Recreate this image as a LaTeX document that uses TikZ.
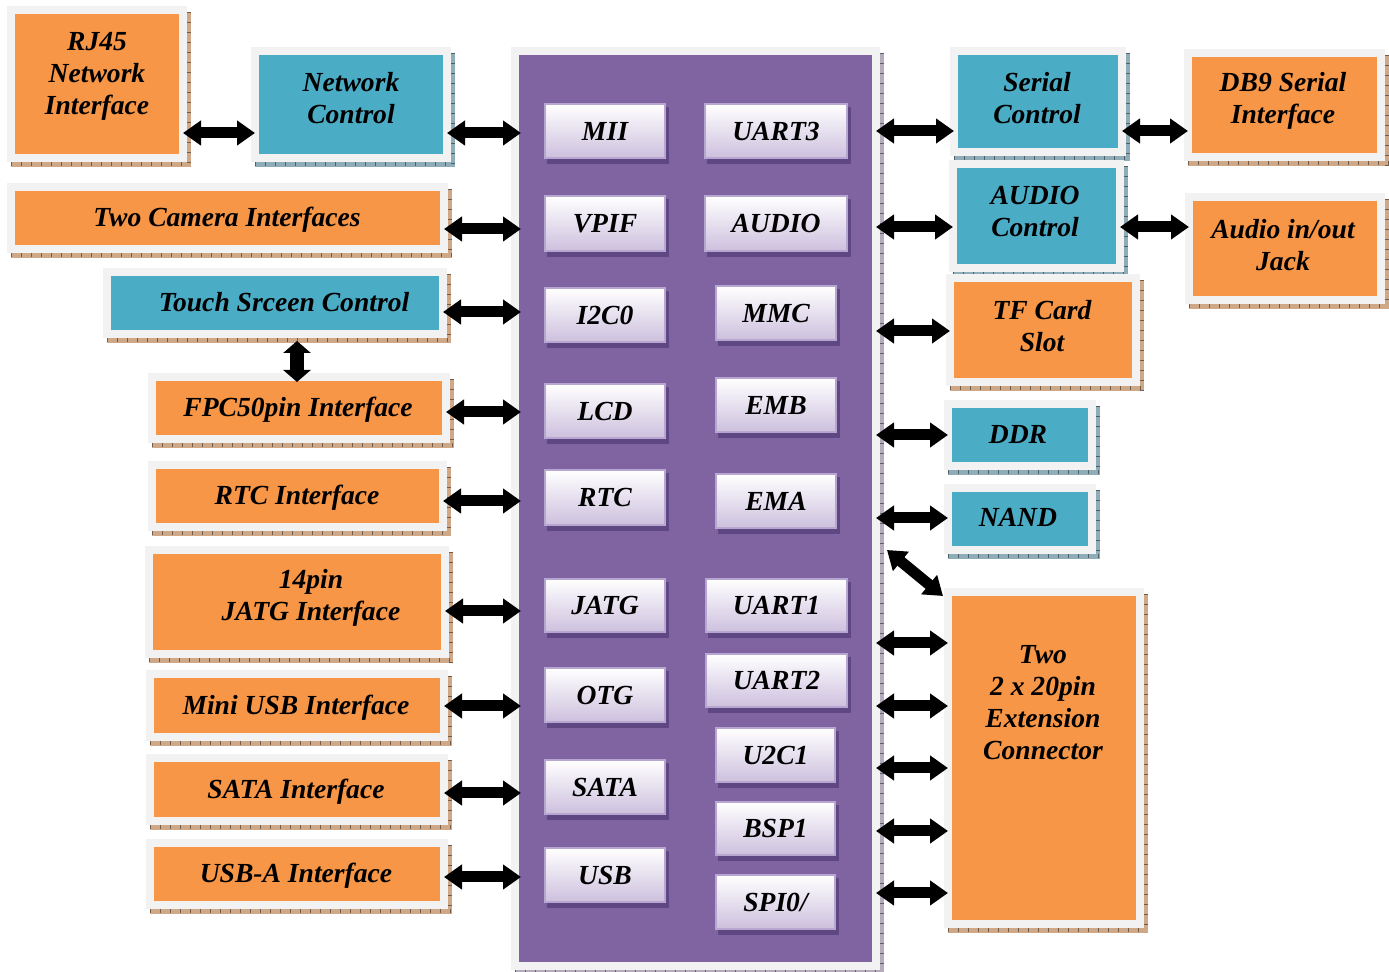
\documentclass[tikz,border=0pt]{standalone}
\usepackage{fontspec}
\setmainfont{Liberation Serif}
\usetikzlibrary{arrows.meta}
\definecolor{orng}{HTML}{F79646}
\definecolor{aqua}{HTML}{4BACC6}
\definecolor{purp}{HTML}{8064A2}
\definecolor{frm}{HTML}{F2F2F2}
\definecolor{oshad}{HTML}{CFA888}
\definecolor{bshad}{HTML}{8EADB8}
\definecolor{pshad}{HTML}{B4ACBC}
\definecolor{cshad}{HTML}{5E4782}
\definecolor{cbot}{HTML}{CDC0DE}
\definecolor{cbrd}{HTML}{B7A6CF}
\tikzset{
  frame/.style={draw=frm, line width=4pt, inner sep=0pt, outer sep=0pt},
  chip/.style={draw=cbrd, line width=1.2pt, top color=white, bottom color=cbot, inner sep=0pt, outer sep=0pt},
  txt/.style={font=\bfseries\itshape\fontsize{13.8}{16}\selectfont, align=center, inner sep=0pt},
  one/.style={text height=9.2pt, text depth=0pt},
  ticks/.style={line width=2pt, dash pattern=on 0.5pt off 4.5pt},
  arr/.style={draw=black, line width=5.5pt, {Triangle[width=12pt,length=9pt]}-{Triangle[width=12pt,length=9pt]}},
  varr/.style={draw=black, line width=7pt, {Triangle[width=13.5pt,length=6pt]}-{Triangle[width=13.5pt,length=6pt]}},
}
% #1 name, #2 x1, #3 y1, #4 x2, #5 y2 (inner coloured area), #6 fill, #7 shadow
\newcommand\mybox[7]{%
  \fill[#7] ({#2-4},{#3-2}) rectangle ({#4+12},{#5+13});
  \draw[ticks, #7!55!black] ({#2-4},{#5+10.5}) -- ({#4+12},{#5+10.5});
  \draw[ticks, #7!55!black] ({#4+10},{#3-2}) -- ({#4+10},{#5+13});
  \node[frame, fill=#6, minimum width={(#4-#2+8)*0.5pt}, minimum height={(#5-#3+8)*0.5pt}] (#1) at ({(#2+#4)/2},{(#3+#5)/2}) {};
}
% #1 name, #2 x1, #3 y1, #4 x2, #5 y2 (outer), #6 text
\newcommand\mychip[6]{%
  \fill[cshad] ({#2+3},{#3+4}) rectangle ({#4+3},{#5+5});
  \node[chip, txt, one, minimum width={(#4-#2-2.4)*0.5pt}, minimum height={(#5-#3-2.4)*0.5pt}] (#1) at ({(#2+#4)/2},{(#3+#5)/2}) {#6};
}
\begin{document}
\begin{tikzpicture}[x=0.5pt, y=-0.5pt]
\useasboundingbox (0,0) rectangle (1389,972);
\fill[white] (0,0) rectangle (1389,972);

% CPU block
\mybox{cpu}{519}{55}{872}{962}{purp}{pshad}
\coordinate (cpuL) at ([xshift=3pt]cpu.west);
\coordinate (cpuR) at (cpu.east);

% left boxes
\mybox{rj}{15}{14}{179}{154}{orng}{oshad}
\mybox{nc}{259}{55}{443}{154}{aqua}{bshad}
\mybox{cam}{15}{191}{440}{245}{orng}{oshad}
\mybox{touch}{111}{276}{439}{330}{aqua}{oshad}
\mybox{fpc}{156}{381}{442}{435}{orng}{oshad}
\mybox{rtci}{156}{469}{439}{523}{orng}{oshad}
\mybox{jtagi}{153}{554}{441}{650}{orng}{oshad}
\mybox{musb}{154}{678}{440}{733}{orng}{oshad}
\mybox{satai}{154}{762}{440}{817}{orng}{oshad}
\mybox{usba}{154}{847}{440}{901}{orng}{oshad}

% right boxes
\mybox{serial}{958}{55}{1118}{148}{aqua}{bshad}
\mybox{db9}{1192}{57}{1377}{153}{orng}{oshad}
\mybox{audc}{957}{168}{1116}{264}{aqua}{bshad}
\mybox{jack}{1193}{201}{1377}{296}{orng}{oshad}
\mybox{tf}{954}{282}{1132}{378}{orng}{oshad}
\mybox{ddr}{952}{408}{1088}{462}{aqua}{bshad}
\mybox{nand}{952}{492}{1088}{546}{aqua}{bshad}
\mybox{ext}{952}{596}{1136}{920}{orng}{oshad}

% box texts
\node[txt] (rjT) at (97,76) {RJ45\\Network\\Interface};
\node[txt] (ncT) at (351,98) {Network\\Control};
\node[txt, one] (camT) at (227,217) {Two Camera Interfaces};
\node[txt, one] (touchT) at (284,302) {Touch Srceen Control};
\node[txt, one] (fpcT) at (298,407) {FPC50pin Interface};
\node[txt, one] (rtciT) at (297,495) {RTC Interface};
\node[txt] (jtagiT) at (311,598) {14pin\\JATG Interface};
\node[txt, one] (musbT) at (296,705) {Mini USB Interface};
\node[txt, one] (sataiT) at (296,789) {SATA Interface};
\node[txt, one] (usbaT) at (296,873) {USB-A Interface};
\node[txt] (serialT) at (1037,98) {Serial\\Control};
\node[txt] (db9T) at (1283,101) {DB9 Serial\\Interface};
\node[txt] (audcT) at (1035,212) {AUDIO\\Control};
\node[txt] (jackT) at (1283,245) {Audio in/out\\Jack};
\node[txt] (tfT) at (1042,326) {TF Card\\Slot};
\node[txt, one] (ddrT) at (1018,434) {DDR};
\node[txt, one] (nandT) at (1018,517) {NAND};
\node[txt] (extT) at (1043,703) {Two\\2 x 20pin\\Extension\\Connector};

% chip blocks
\mychip{mii}{544}{103}{666}{159}{MII}
\mychip{uart3}{704}{103}{848}{159}{UART3}
\mychip{vpif}{544}{195}{666}{252}{VPIF}
\mychip{audio}{704}{195}{848}{252}{AUDIO}
\mychip{ii2c}{544}{287}{666}{343}{I2C0}
\mychip{mmc}{715}{285}{837}{341}{MMC}
\mychip{lcd}{544}{383}{666}{439}{LCD}
\mychip{emb}{715}{377}{837}{433}{EMB}
\mychip{rtc}{544}{469}{666}{526}{RTC}
\mychip{ema}{715}{473}{837}{529}{EMA}
\mychip{jatg}{544}{578}{666}{633}{JATG}
\mychip{uart1}{705}{578}{848}{633}{UART1}
\mychip{otg}{544}{667}{666}{723}{OTG}
\mychip{uart2}{705}{653}{848}{708}{UART2}
\mychip{uiic}{715}{727}{836}{783}{U2C1}
\mychip{sata}{544}{759}{666}{815}{SATA}
\mychip{bsp}{715}{801}{836}{856}{BSP1}
\mychip{usb}{544}{847}{666}{903}{USB}
\mychip{spi}{715}{874}{836}{930}{SPI0/}

% left arrows
\draw[arr] (rj.east |- 0,133) -- (nc.west |- 0,133);
\draw[arr] (nc.east |- 0,133) -- (cpuL |- 0,133);
\draw[arr] (cam.east |- 0,229) -- (cpuL |- 0,229);
\draw[arr] (touch.east |- 0,312) -- (cpuL |- 0,312);
\draw[arr] (fpc.east |- 0,412) -- (cpuL |- 0,412);
\draw[arr] (rtci.east |- 0,501) -- (cpuL |- 0,501);
\draw[arr] (jtagi.east |- 0,611) -- (cpuL |- 0,611);
\draw[arr] (musb.east |- 0,706) -- (cpuL |- 0,706);
\draw[arr] (satai.east |- 0,793) -- (cpuL |- 0,793);
\draw[arr] (usba.east |- 0,877) -- (cpuL |- 0,877);
\draw[varr, shorten <=3.5pt, shorten >=-2.5pt] (touch.south -| 297,0) -- (fpc.north -| 297,0);

% right arrows
\draw[arr] (cpuR |- 0,131) -- (serial.west |- 0,131);
\draw[arr] (serial.east |- 0,131) -- (db9.west |- 0,131);
\draw[arr] (cpuR |- 0,227) -- (audc.west |- 0,227);
\draw[arr] (audc.east |- 0,227) -- (jack.west |- 0,227);
\draw[arr] (cpuR |- 0,331) -- (tf.west |- 0,331);
\draw[arr] (cpuR |- 0,435) -- (ddr.west |- 0,435);
\draw[arr] (cpuR |- 0,518) -- (nand.west |- 0,518);
\coordinate (dg) at (887,550);
\draw[arr] (dg) -- ([shift={(-2.5pt,-2pt)}]ext.north west);
\draw[arr] (cpuR |- 0,643) -- (ext.west |- 0,643);
\draw[arr] (cpuR |- 0,706) -- (ext.west |- 0,706);
\draw[arr] (cpuR |- 0,768) -- (ext.west |- 0,768);
\draw[arr] (cpuR |- 0,831) -- (ext.west |- 0,831);
\draw[arr] (cpuR |- 0,893) -- (ext.west |- 0,893);
\end{tikzpicture}
\end{document}
